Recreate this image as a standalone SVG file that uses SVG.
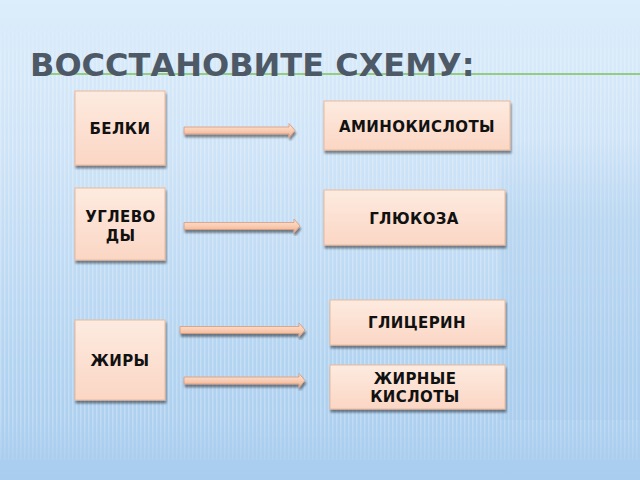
<svg xmlns="http://www.w3.org/2000/svg" width="640" height="480" viewBox="0 0 640 480">
<defs>
<linearGradient id="bg" x1="0" y1="0" x2="0" y2="1">
<stop offset="0" stop-color="#dcedfb"/>
<stop offset="0.3" stop-color="#cfe4f7"/>
<stop offset="0.75" stop-color="#b3d4f1"/>
<stop offset="1" stop-color="#a9cdef"/>
</linearGradient>
<linearGradient id="box" x1="0" y1="0" x2="0" y2="1">
<stop offset="0" stop-color="#fdebe0"/>
<stop offset="1" stop-color="#fbd6c4"/>
</linearGradient>
<linearGradient id="arr" x1="0" y1="0" x2="0" y2="1">
<stop offset="0" stop-color="#fde3d3"/>
<stop offset="0.5" stop-color="#f9cdb3"/>
<stop offset="1" stop-color="#e9ac8c"/>
</linearGradient>
<linearGradient id="blob" x1="0" y1="0" x2="0" y2="1">
<stop offset="0" stop-color="#9cc3e8" stop-opacity="0"/>
<stop offset="0.3" stop-color="#9cc3e8" stop-opacity="0.25"/>
<stop offset="1" stop-color="#9cc3e8" stop-opacity="0.2"/>
</linearGradient>
<pattern id="stripes" width="4" height="8" patternUnits="userSpaceOnUse">
<rect x="0" y="0" width="1.5" height="8" fill="#ffffff" opacity="0.25"/>
</pattern>
<linearGradient id="fade" x1="0" y1="0" x2="0" y2="1">
<stop offset="0" stop-color="#fff" stop-opacity="0"/>
<stop offset="0.1" stop-color="#fff" stop-opacity="1"/>
<stop offset="0.9" stop-color="#fff" stop-opacity="1"/>
<stop offset="1" stop-color="#fff" stop-opacity="0.3"/>
</linearGradient>
<mask id="m"><rect x="0" y="20" width="640" height="440" fill="url(#fade)"/></mask>
<filter id="sh" x="-10%" y="-10%" width="130%" height="130%">
<feGaussianBlur in="SourceAlpha" stdDeviation="1"/>
<feOffset dx="1" dy="3"/>
<feComponentTransfer><feFuncA type="linear" slope="0.45"/></feComponentTransfer>
<feMerge><feMergeNode/><feMergeNode in="SourceGraphic"/></feMerge>
</filter>
</defs>
<style>
.node rect{fill:url(#box);stroke:#eab99c;stroke-width:1;filter:url(#sh)}
.node text{font-family:"DejaVu Sans",sans-serif;font-weight:bold;font-size:15px;letter-spacing:0.4px;fill:#111;text-anchor:middle}
.conn path{fill:url(#arr);stroke:#d99b7b;stroke-width:0.8;filter:url(#sh)}
</style>
<rect width="640" height="480" fill="url(#bg)"/>
<rect width="640" height="480" fill="url(#stripes)" mask="url(#m)"/>
<path d="M500 150 Q560 125 640 140 L640 420 L500 420 Z" fill="url(#blob)"/>
<line x1="35" y1="74" x2="640" y2="74" stroke="#7cc35a" stroke-width="1.5"/>
<text x="30" y="76" font-family="'DejaVu Sans',sans-serif" font-weight="bold" font-size="32" fill="#4e5967">ВОССТАНОВИТЕ СХЕМУ:</text>
<g id="n-belki" class="node"><rect x="75" y="91" width="90" height="74"/><text x="120" y="134">БЕЛКИ</text></g>
<g id="n-amino" class="node"><rect x="324" y="101" width="186" height="49"/><text x="417" y="132">АМИНОКИСЛОТЫ</text></g>
<g id="n-uglevody" class="node"><rect x="75" y="188" width="90" height="72"/><text x="120.5" y="222">УГЛЕВО</text><text x="120.5" y="241">ДЫ</text></g>
<g id="n-glukoza" class="node"><rect x="324" y="190" width="181" height="55"/><text x="414" y="224">ГЛЮКОЗА</text></g>
<g id="n-glicerin" class="node"><rect x="330" y="300" width="175" height="45"/><text x="417" y="328">ГЛИЦЕРИН</text></g>
<g id="n-zhiry" class="node"><rect x="75" y="320" width="90" height="80"/><text x="120" y="366">ЖИРЫ</text></g>
<g id="n-zhk" class="node"><rect x="330" y="365" width="175" height="44"/><text x="415" y="384">ЖИРНЫЕ</text><text x="415" y="402">КИСЛОТЫ</text></g>
<g id="connectors" class="conn">
<path d="M184 127 H289 V123.5 L295 130.5 L289 137.5 V134 H184 Z"/>
<path d="M184 222.5 H294 V219 L300 226 L294 233 V229.5 H184 Z"/>
<path d="M180 326.5 H299 V323 L305 330 L299 337 V333.5 H180 Z"/>
<path d="M184 377 H299 V373.5 L305 380.5 L299 387.5 V384 H184 Z"/>
</g>
</svg>
